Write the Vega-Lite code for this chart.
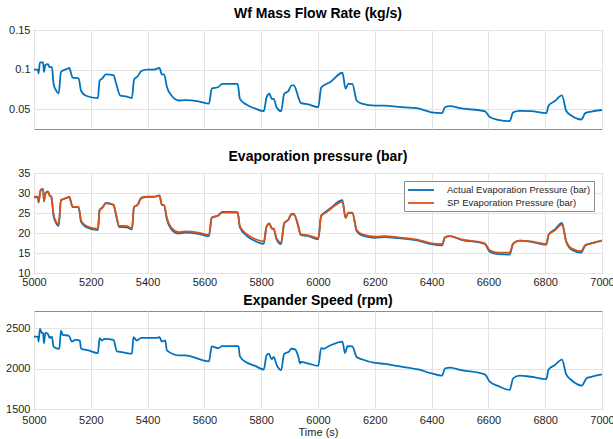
{
  "$schema": "https://vega.github.io/schema/vega-lite/v6.json",
  "padding": {"left": 5, "top": 6, "right": 0, "bottom": 0},
  "resolve": {"legend": {"color": "independent"}, "scale": {"color": "independent"}},
  "config": {
    "font": "Liberation Sans",
    "view": {"stroke": "#8c8c8c", "strokeWidth": 1},
    "concat": {"spacing": 5},
    "axis": {
      "labelFontSize": 11,
      "labelColor": "#262626",
      "domain": false,
      "ticks": false,
      "gridColor": "#e3e3e3",
      "labelPadding": 4,
      "labelFlush": false,
      "titleFontSize": 11,
      "titleFontWeight": "normal",
      "titleColor": "#262626"
    },
    "axisX": {"labelPadding": 3, "labelFlush": false},
    "title": {"fontSize": 14, "fontWeight": "bold", "color": "#000000", "anchor": "middle", "offset": 3},
    "line": {"strokeWidth": 1.8, "interpolate": "monotone"}
  },
  "datasets": {
    "wf": [
      {"t": 5000, "v": 0.100}, {"t": 5014, "v": 0.100}, {"t": 5016, "v": 0.095}, {"t": 5021, "v": 0.109}, {"t": 5032, "v": 0.109},
      {"t": 5035, "v": 0.097}, {"t": 5040, "v": 0.106}, {"t": 5049, "v": 0.107}, {"t": 5055, "v": 0.103}, {"t": 5063, "v": 0.103},
      {"t": 5069, "v": 0.082}, {"t": 5077, "v": 0.074}, {"t": 5087, "v": 0.070}, {"t": 5095, "v": 0.097}, {"t": 5116, "v": 0.101},
      {"t": 5124, "v": 0.102}, {"t": 5136, "v": 0.090}, {"t": 5157, "v": 0.089}, {"t": 5166, "v": 0.073}, {"t": 5183, "v": 0.067},
      {"t": 5225, "v": 0.064}, {"t": 5231, "v": 0.086}, {"t": 5241, "v": 0.089}, {"t": 5253, "v": 0.094}, {"t": 5280, "v": 0.093},
      {"t": 5288, "v": 0.084}, {"t": 5304, "v": 0.067}, {"t": 5327, "v": 0.066}, {"t": 5345, "v": 0.064}, {"t": 5352, "v": 0.087},
      {"t": 5366, "v": 0.092}, {"t": 5377, "v": 0.098}, {"t": 5397, "v": 0.100}, {"t": 5421, "v": 0.100}, {"t": 5442, "v": 0.102},
      {"t": 5450, "v": 0.094}, {"t": 5458, "v": 0.094}, {"t": 5468, "v": 0.078}, {"t": 5485, "v": 0.067}, {"t": 5509, "v": 0.061},
      {"t": 5532, "v": 0.0615}, {"t": 5579, "v": 0.060}, {"t": 5616, "v": 0.057}, {"t": 5626, "v": 0.076}, {"t": 5649, "v": 0.078},
      {"t": 5663, "v": 0.082}, {"t": 5717, "v": 0.082}, {"t": 5725, "v": 0.063}, {"t": 5749, "v": 0.0555}, {"t": 5778, "v": 0.051},
      {"t": 5809, "v": 0.0475}, {"t": 5819, "v": 0.065}, {"t": 5829, "v": 0.0695}, {"t": 5837, "v": 0.063}, {"t": 5844, "v": 0.063},
      {"t": 5854, "v": 0.0525}, {"t": 5870, "v": 0.0475}, {"t": 5881, "v": 0.0695}, {"t": 5896, "v": 0.073}, {"t": 5907, "v": 0.080},
      {"t": 5915, "v": 0.080}, {"t": 5931, "v": 0.065}, {"t": 5939, "v": 0.058}, {"t": 5966, "v": 0.056}, {"t": 6001, "v": 0.0525},
      {"t": 6011, "v": 0.077}, {"t": 6025, "v": 0.081}, {"t": 6042, "v": 0.084}, {"t": 6086, "v": 0.096}, {"t": 6097, "v": 0.076},
      {"t": 6107, "v": 0.082}, {"t": 6121, "v": 0.082}, {"t": 6136, "v": 0.061}, {"t": 6154, "v": 0.057}, {"t": 6201, "v": 0.0545},
      {"t": 6236, "v": 0.0545}, {"t": 6283, "v": 0.053}, {"t": 6353, "v": 0.051}, {"t": 6400, "v": 0.046}, {"t": 6437, "v": 0.045},
      {"t": 6447, "v": 0.0525}, {"t": 6464, "v": 0.054}, {"t": 6505, "v": 0.051}, {"t": 6587, "v": 0.0475}, {"t": 6605, "v": 0.040},
      {"t": 6634, "v": 0.0365}, {"t": 6675, "v": 0.035}, {"t": 6687, "v": 0.046}, {"t": 6710, "v": 0.048}, {"t": 6751, "v": 0.0475},
      {"t": 6804, "v": 0.045}, {"t": 6812, "v": 0.0545}, {"t": 6833, "v": 0.060}, {"t": 6859, "v": 0.0675}, {"t": 6874, "v": 0.048},
      {"t": 6892, "v": 0.042}, {"t": 6927, "v": 0.037}, {"t": 6941, "v": 0.045}, {"t": 6962, "v": 0.047}, {"t": 7000, "v": 0.049}
    ],
    "evap": [
      {"t": 5000, "sp": 29.1, "a": 28.9}, {"t": 5014, "sp": 29.1, "a": 28.9}, {"t": 5016, "sp": 27.8, "a": 27.6}, {"t": 5023, "sp": 30.5, "a": 30.7},
      {"t": 5032, "sp": 30.9, "a": 31.0}, {"t": 5035, "sp": 28.0, "a": 27.9}, {"t": 5040, "sp": 29.8, "a": 29.9}, {"t": 5049, "sp": 30.3, "a": 30.4},
      {"t": 5055, "sp": 29.4, "a": 29.4}, {"t": 5061, "sp": 29.0, "a": 29.0}, {"t": 5069, "sp": 24.6, "a": 24.3}, {"t": 5077, "sp": 22.9, "a": 22.6},
      {"t": 5087, "sp": 22.2, "a": 21.8}, {"t": 5095, "sp": 28.2, "a": 28.2}, {"t": 5116, "sp": 28.8, "a": 28.8}, {"t": 5124, "sp": 29.1, "a": 29.0},
      {"t": 5136, "sp": 26.6, "a": 26.5}, {"t": 5157, "sp": 26.5, "a": 26.4}, {"t": 5166, "sp": 23.1, "a": 22.7}, {"t": 5183, "sp": 21.8, "a": 21.5},
      {"t": 5225, "sp": 21.0, "a": 20.7}, {"t": 5231, "sp": 25.7, "a": 25.7}, {"t": 5241, "sp": 26.3, "a": 26.4}, {"t": 5253, "sp": 27.4, "a": 27.5},
      {"t": 5280, "sp": 27.1, "a": 27.0}, {"t": 5288, "sp": 25.0, "a": 24.8}, {"t": 5300, "sp": 21.8, "a": 21.5}, {"t": 5327, "sp": 21.7, "a": 21.4},
      {"t": 5345, "sp": 21.2, "a": 20.9}, {"t": 5352, "sp": 26.5, "a": 26.4}, {"t": 5366, "sp": 27.1, "a": 27.2}, {"t": 5377, "sp": 28.6, "a": 28.8},
      {"t": 5397, "sp": 29.0, "a": 29.1}, {"t": 5421, "sp": 29.0, "a": 29.1}, {"t": 5442, "sp": 29.3, "a": 29.4}, {"t": 5450, "sp": 27.1, "a": 27.0},
      {"t": 5458, "sp": 27.0, "a": 26.9}, {"t": 5468, "sp": 23.8, "a": 23.4}, {"t": 5485, "sp": 21.2, "a": 20.8}, {"t": 5509, "sp": 20.2, "a": 19.9},
      {"t": 5532, "sp": 20.4, "a": 20.1}, {"t": 5579, "sp": 20.1, "a": 19.8}, {"t": 5616, "sp": 19.5, "a": 19.2}, {"t": 5626, "sp": 23.9, "a": 23.8},
      {"t": 5649, "sp": 24.4, "a": 24.4}, {"t": 5663, "sp": 25.1, "a": 25.3}, {"t": 5717, "sp": 25.1, "a": 25.2}, {"t": 5725, "sp": 21.7, "a": 21.4},
      {"t": 5749, "sp": 19.7, "a": 19.3}, {"t": 5778, "sp": 18.5, "a": 18.0}, {"t": 5809, "sp": 17.9, "a": 17.3}, {"t": 5819, "sp": 21.7, "a": 21.6},
      {"t": 5829, "sp": 22.3, "a": 22.4}, {"t": 5837, "sp": 21.2, "a": 21.1}, {"t": 5844, "sp": 21.1, "a": 21.0}, {"t": 5854, "sp": 18.7, "a": 18.4},
      {"t": 5870, "sp": 17.6, "a": 17.2}, {"t": 5881, "sp": 22.5, "a": 22.4}, {"t": 5896, "sp": 23.3, "a": 23.4}, {"t": 5907, "sp": 24.6, "a": 24.8},
      {"t": 5915, "sp": 24.6, "a": 24.8}, {"t": 5931, "sp": 21.7, "a": 21.5}, {"t": 5939, "sp": 19.7, "a": 19.5}, {"t": 5966, "sp": 19.4, "a": 19.2},
      {"t": 6001, "sp": 18.7, "a": 18.4}, {"t": 6011, "sp": 24.2, "a": 24.3}, {"t": 6025, "sp": 25.0, "a": 25.2}, {"t": 6042, "sp": 25.9, "a": 26.1},
      {"t": 6086, "sp": 27.8, "a": 28.2}, {"t": 6097, "sp": 23.8, "a": 23.8}, {"t": 6107, "sp": 25.0, "a": 25.1}, {"t": 6121, "sp": 25.0, "a": 25.1},
      {"t": 6136, "sp": 20.8, "a": 20.5}, {"t": 6154, "sp": 19.7, "a": 19.4}, {"t": 6201, "sp": 19.1, "a": 18.8}, {"t": 6236, "sp": 19.2, "a": 19.0},
      {"t": 6283, "sp": 18.9, "a": 18.7}, {"t": 6353, "sp": 18.3, "a": 18.1}, {"t": 6400, "sp": 17.4, "a": 17.2}, {"t": 6437, "sp": 17.2, "a": 16.9},
      {"t": 6447, "sp": 18.9, "a": 18.9}, {"t": 6464, "sp": 19.2, "a": 19.2}, {"t": 6505, "sp": 18.4, "a": 18.3}, {"t": 6587, "sp": 17.4, "a": 17.3},
      {"t": 6605, "sp": 15.7, "a": 15.3}, {"t": 6634, "sp": 15.1, "a": 14.7}, {"t": 6675, "sp": 15.1, "a": 14.6}, {"t": 6687, "sp": 17.4, "a": 17.3},
      {"t": 6710, "sp": 18.1, "a": 18.1}, {"t": 6751, "sp": 17.9, "a": 17.8}, {"t": 6804, "sp": 17.2, "a": 17.1}, {"t": 6812, "sp": 19.5, "a": 19.6},
      {"t": 6833, "sp": 20.6, "a": 20.8}, {"t": 6859, "sp": 22.1, "a": 22.5}, {"t": 6874, "sp": 17.9, "a": 17.8}, {"t": 6892, "sp": 16.2, "a": 15.9},
      {"t": 6927, "sp": 15.5, "a": 15.1}, {"t": 6941, "sp": 17.0, "a": 16.9}, {"t": 6962, "sp": 17.4, "a": 17.4}, {"t": 7000, "sp": 18.1, "a": 18.1}
    ],
    "speed": [
      {"t": 5000, "v": 2394}, {"t": 5014, "v": 2394}, {"t": 5016, "v": 2333}, {"t": 5021, "v": 2488}, {"t": 5026, "v": 2447},
      {"t": 5032, "v": 2435}, {"t": 5035, "v": 2313}, {"t": 5040, "v": 2439}, {"t": 5049, "v": 2427}, {"t": 5055, "v": 2378},
      {"t": 5063, "v": 2394}, {"t": 5069, "v": 2272}, {"t": 5077, "v": 2252}, {"t": 5089, "v": 2244}, {"t": 5095, "v": 2467},
      {"t": 5101, "v": 2415}, {"t": 5122, "v": 2406}, {"t": 5134, "v": 2333}, {"t": 5145, "v": 2354}, {"t": 5161, "v": 2346},
      {"t": 5166, "v": 2244}, {"t": 5192, "v": 2224}, {"t": 5225, "v": 2191}, {"t": 5231, "v": 2374}, {"t": 5239, "v": 2346},
      {"t": 5248, "v": 2366}, {"t": 5280, "v": 2354}, {"t": 5292, "v": 2211}, {"t": 5309, "v": 2203}, {"t": 5345, "v": 2183},
      {"t": 5350, "v": 2386}, {"t": 5362, "v": 2346}, {"t": 5377, "v": 2378}, {"t": 5427, "v": 2378}, {"t": 5442, "v": 2386},
      {"t": 5450, "v": 2333}, {"t": 5462, "v": 2346}, {"t": 5468, "v": 2224}, {"t": 5509, "v": 2163}, {"t": 5532, "v": 2163},
      {"t": 5616, "v": 2089}, {"t": 5626, "v": 2272}, {"t": 5649, "v": 2252}, {"t": 5663, "v": 2276}, {"t": 5720, "v": 2276},
      {"t": 5725, "v": 2150}, {"t": 5749, "v": 2073}, {"t": 5778, "v": 2033}, {"t": 5809, "v": 1988}, {"t": 5819, "v": 2163},
      {"t": 5827, "v": 2183}, {"t": 5837, "v": 2114}, {"t": 5844, "v": 2142}, {"t": 5854, "v": 2049}, {"t": 5870, "v": 1980},
      {"t": 5881, "v": 2183}, {"t": 5896, "v": 2203}, {"t": 5907, "v": 2244}, {"t": 5919, "v": 2236}, {"t": 5931, "v": 2142},
      {"t": 5937, "v": 2061}, {"t": 5940, "v": 2081}, {"t": 5966, "v": 2061}, {"t": 6001, "v": 2033}, {"t": 6011, "v": 2252},
      {"t": 6019, "v": 2244}, {"t": 6036, "v": 2272}, {"t": 6086, "v": 2333}, {"t": 6095, "v": 2191}, {"t": 6104, "v": 2276},
      {"t": 6121, "v": 2272}, {"t": 6136, "v": 2142}, {"t": 6154, "v": 2114}, {"t": 6201, "v": 2069}, {"t": 6236, "v": 2057},
      {"t": 6283, "v": 2028}, {"t": 6353, "v": 1988}, {"t": 6400, "v": 1939}, {"t": 6437, "v": 1911}, {"t": 6447, "v": 2000},
      {"t": 6464, "v": 2012}, {"t": 6505, "v": 1980}, {"t": 6587, "v": 1927}, {"t": 6605, "v": 1837}, {"t": 6634, "v": 1785},
      {"t": 6675, "v": 1736}, {"t": 6687, "v": 1878}, {"t": 6710, "v": 1911}, {"t": 6751, "v": 1898}, {"t": 6804, "v": 1870},
      {"t": 6812, "v": 1988}, {"t": 6833, "v": 2041}, {"t": 6859, "v": 2110}, {"t": 6874, "v": 1927}, {"t": 6892, "v": 1858},
      {"t": 6929, "v": 1789}, {"t": 6945, "v": 1878}, {"t": 6962, "v": 1898}, {"t": 7000, "v": 1927}
    ]
  },
  "vconcat": [
    {
      "title": "Wf Mass Flow Rate (kg/s)",
      "width": 568,
      "height": 99,
      "data": {"name": "wf"},
      "mark": {"type": "line", "color": "#0072BD", "clip": true},
      "encoding": {
        "x": {"field": "t", "type": "quantitative", "scale": {"domain": [5000, 7000], "nice": false},
              "axis": {"title": null, "values": [5000, 5200, 5400, 5600, 5800, 6000, 6200, 6400, 6600, 6800, 7000], "format": "d", "labelOpacity": 0}},
        "y": {"field": "v", "type": "quantitative", "scale": {"domain": [0.025, 0.15], "nice": false, "zero": false},
              "axis": {"title": null, "values": [0.05, 0.1, 0.15], "format": ".2~f"}}
      }
    },
    {
      "title": "Evaporation pressure (bar)",
      "width": 568,
      "height": 100,
      "data": {"name": "evap"},
      "transform": [{"fold": ["a", "sp"], "as": ["series", "val"]}],
      "mark": {"type": "line", "clip": true},
      "encoding": {
        "x": {"field": "t", "type": "quantitative", "scale": {"domain": [5000, 7000], "nice": false},
              "axis": {"title": null, "values": [5000, 5200, 5400, 5600, 5800, 6000, 6200, 6400, 6600, 6800, 7000], "format": "d"}},
        "y": {"field": "val", "type": "quantitative", "scale": {"domain": [10, 35], "nice": false, "zero": false},
              "axis": {"title": null, "values": [10, 15, 20, 25, 30, 35]}},
        "color": {"field": "series", "type": "nominal",
                  "scale": {"domain": ["a", "sp"], "range": ["#0072BD", "#D95319"]},
                  "legend": {"title": null, "orient": "top-right", "offset": 8, "fillColor": "#ffffff", "strokeColor": "#8c8c8c",
                             "padding": 3, "labelFontSize": 9.5, "labelColor": "#262626", "symbolType": "M-2.6,0H2.6", "symbolSize": 100,
                             "symbolStrokeWidth": 2, "symbolOffset": 8, "rowPadding": 2, "labelOffset": 20,
                             "labelExpr": "datum.label == 'a' ? 'Actual Evaporation Pressure (bar)' : 'SP Evaporation Pressure (bar)'"}}
      }
    },
    {
      "title": "Expander Speed (rpm)",
      "width": 568,
      "height": 98,
      "data": {"name": "speed"},
      "mark": {"type": "line", "color": "#0072BD", "clip": true},
      "encoding": {
        "x": {"field": "t", "type": "quantitative", "scale": {"domain": [5000, 7000], "nice": false},
              "axis": {"title": "Time (s)", "titlePadding": 1, "labelPadding": 5, "values": [5000, 5200, 5400, 5600, 5800, 6000, 6200, 6400, 6600, 6800, 7000], "format": "d"}},
        "y": {"field": "v", "type": "quantitative", "scale": {"domain": [1500, 2710], "nice": false, "zero": false},
              "axis": {"title": null, "values": [1500, 2000, 2500], "format": "d"}}
      }
    }
  ]
}
